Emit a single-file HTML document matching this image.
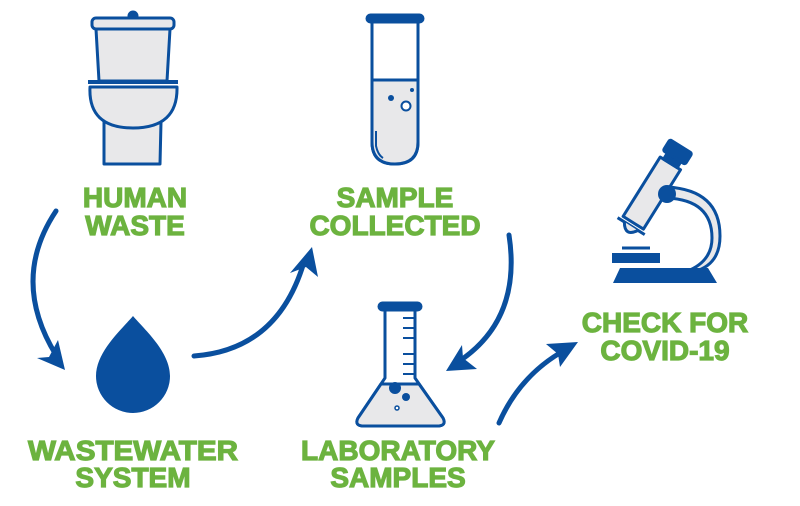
<!DOCTYPE html>
<html><head><meta charset="utf-8"><style>
html,body{margin:0;padding:0;background:#fff;}
svg{display:block}
text{font-family:"Liberation Sans",Arial,sans-serif;font-weight:bold;font-size:28px;fill:#6cb33f;stroke:#6cb33f;stroke-width:1.2px;text-anchor:middle;}
</style></head><body>
<svg width="800" height="506" viewBox="0 0 800 506">
<g fill="#e8e8ea" stroke="#0a4f9e" stroke-width="3" stroke-linejoin="round">
<!-- toilet -->
<circle cx="133" cy="16" r="4" fill="#0a4f9e"/>
<rect x="92" y="18" width="82" height="11" rx="4"/>
<path d="M96 29 L170 29 L167 81 L99 81 Z"/>
<line x1="88" y1="82" x2="178" y2="82" stroke-width="4"/>
<path d="M104 122 L161 122 L160 164 L104 164 Z"/>
<path d="M90 87 L177 87 Q178 128 133 128 Q88 128 90 87 Z"/>
<!-- test tube -->
<path d="M372 22 L372 142 Q372 164 395 164 Q418 164 418 142 L418 22 Z" fill="#fff"/>
<path d="M372 80 L418 80 L418 142 Q418 164 395 164 Q372 164 372 142 Z"/>
<rect x="367" y="15" width="56" height="7" rx="3.5" fill="#0a4f9e"/>
<path d="M376 131 L376 146 Q378 155 383 158" fill="none" stroke-width="2"/>
<circle cx="391" cy="98" r="3" fill="#0a4f9e" stroke="none"/>
<circle cx="412" cy="90" r="2" fill="#0a4f9e" stroke="none"/>
<circle cx="406" cy="106" r="4.5" fill="#fff" stroke-width="2"/>
<!-- flask -->
<path d="M385 310 L385 378 L358 418 Q354 426 364 426 L437 426 Q447 426 443 418 L415 378 L415 310 Z" fill="#fff"/>
<path d="M381 384 L419 384 L443 418 Q447 426 437 426 L364 426 Q354 426 358 418 Z"/>
<rect x="379" y="303" width="42" height="7" rx="3.5" fill="#0a4f9e"/>
<g stroke-width="2"><line x1="403" y1="318" x2="415" y2="318"/><line x1="403" y1="328" x2="415" y2="328"/><line x1="403" y1="338" x2="415" y2="338"/><line x1="403" y1="354" x2="415" y2="354"/><line x1="403" y1="364" x2="415" y2="364"/><line x1="403" y1="374" x2="415" y2="374"/></g>
<circle cx="395" cy="388" r="6" fill="#0a4f9e" stroke="none"/>
<circle cx="406" cy="397" r="4" fill="#0a4f9e" stroke="none"/>
<circle cx="397" cy="408" r="2" fill="#fff" stroke-width="1.5"/>
<!-- microscope -->
<path d="M667 187 Q720 190 720 236 Q720 262 699 270 L690 270 Q712 260 712 238 Q712 200 667 198 Z" />
<g transform="rotate(-58 655 188)">
<rect x="614" y="176" width="70" height="24"/>
<rect x="684" y="180" width="7" height="16" fill="#0a4f9e"/>
<rect x="691" y="175" width="13" height="26" rx="2" fill="#0a4f9e"/>
<line x1="610" y1="172" x2="610" y2="204"/>
<path d="M610 180 Q597 188 610 196" fill="#e8e8ea"/>
</g>
<circle cx="667" cy="194" r="9" fill="#0a4f9e" stroke="none"/>
<line x1="622" y1="248" x2="650" y2="248" stroke-width="3"/>
<rect x="612" y="253" width="48" height="10" fill="#0a4f9e" stroke="none"/>
<path d="M620 268 L708 268 L717 283 L613 283 Z" fill="#0a4f9e" stroke="none"/>
</g>
<!-- drop -->
<path d="M133 316 C145 330 170 352 170 376 A37 37 0 0 1 96 376 C96 352 121 330 133 316 Z" fill="#0a4f9e"/>
<!-- arrows -->
<g fill="none" stroke="#0a4f9e" stroke-width="5" stroke-linecap="round">
<path d="M56 211 Q10 280 56 355"/>
<path d="M194 356 Q278 350 304 262"/>
<path d="M509 235 Q522 320 458 362"/>
<path d="M499 423 Q520 375 565 350"/>
</g>
<g fill="#0a4f9e">
<path d="M65 370 L37 358 L49 357 L58 340 Z"/>
<path d="M312 247 L318 277 L306 267 L290 273 Z"/>
<path d="M446 371 L462 345 L463 358 L477 369 Z"/>
<path d="M578 342 L560 367 L558 354 L546 344 Z"/>
</g>
<text x="135" y="207">HUMAN</text>
<text x="135" y="235">WASTE</text>
<text x="395" y="207">SAMPLE</text>
<text x="395" y="235">COLLECTED</text>
<text x="133" y="460" textLength="210" lengthAdjust="spacingAndGlyphs">WASTEWATER</text>
<text x="133" y="487">SYSTEM</text>
<text x="398" y="460">LABORATORY</text>
<text x="398" y="487">SAMPLES</text>
<text x="665" y="332">CHECK FOR</text>
<text x="665" y="360">COVID-19</text>
</svg>
</body></html>
